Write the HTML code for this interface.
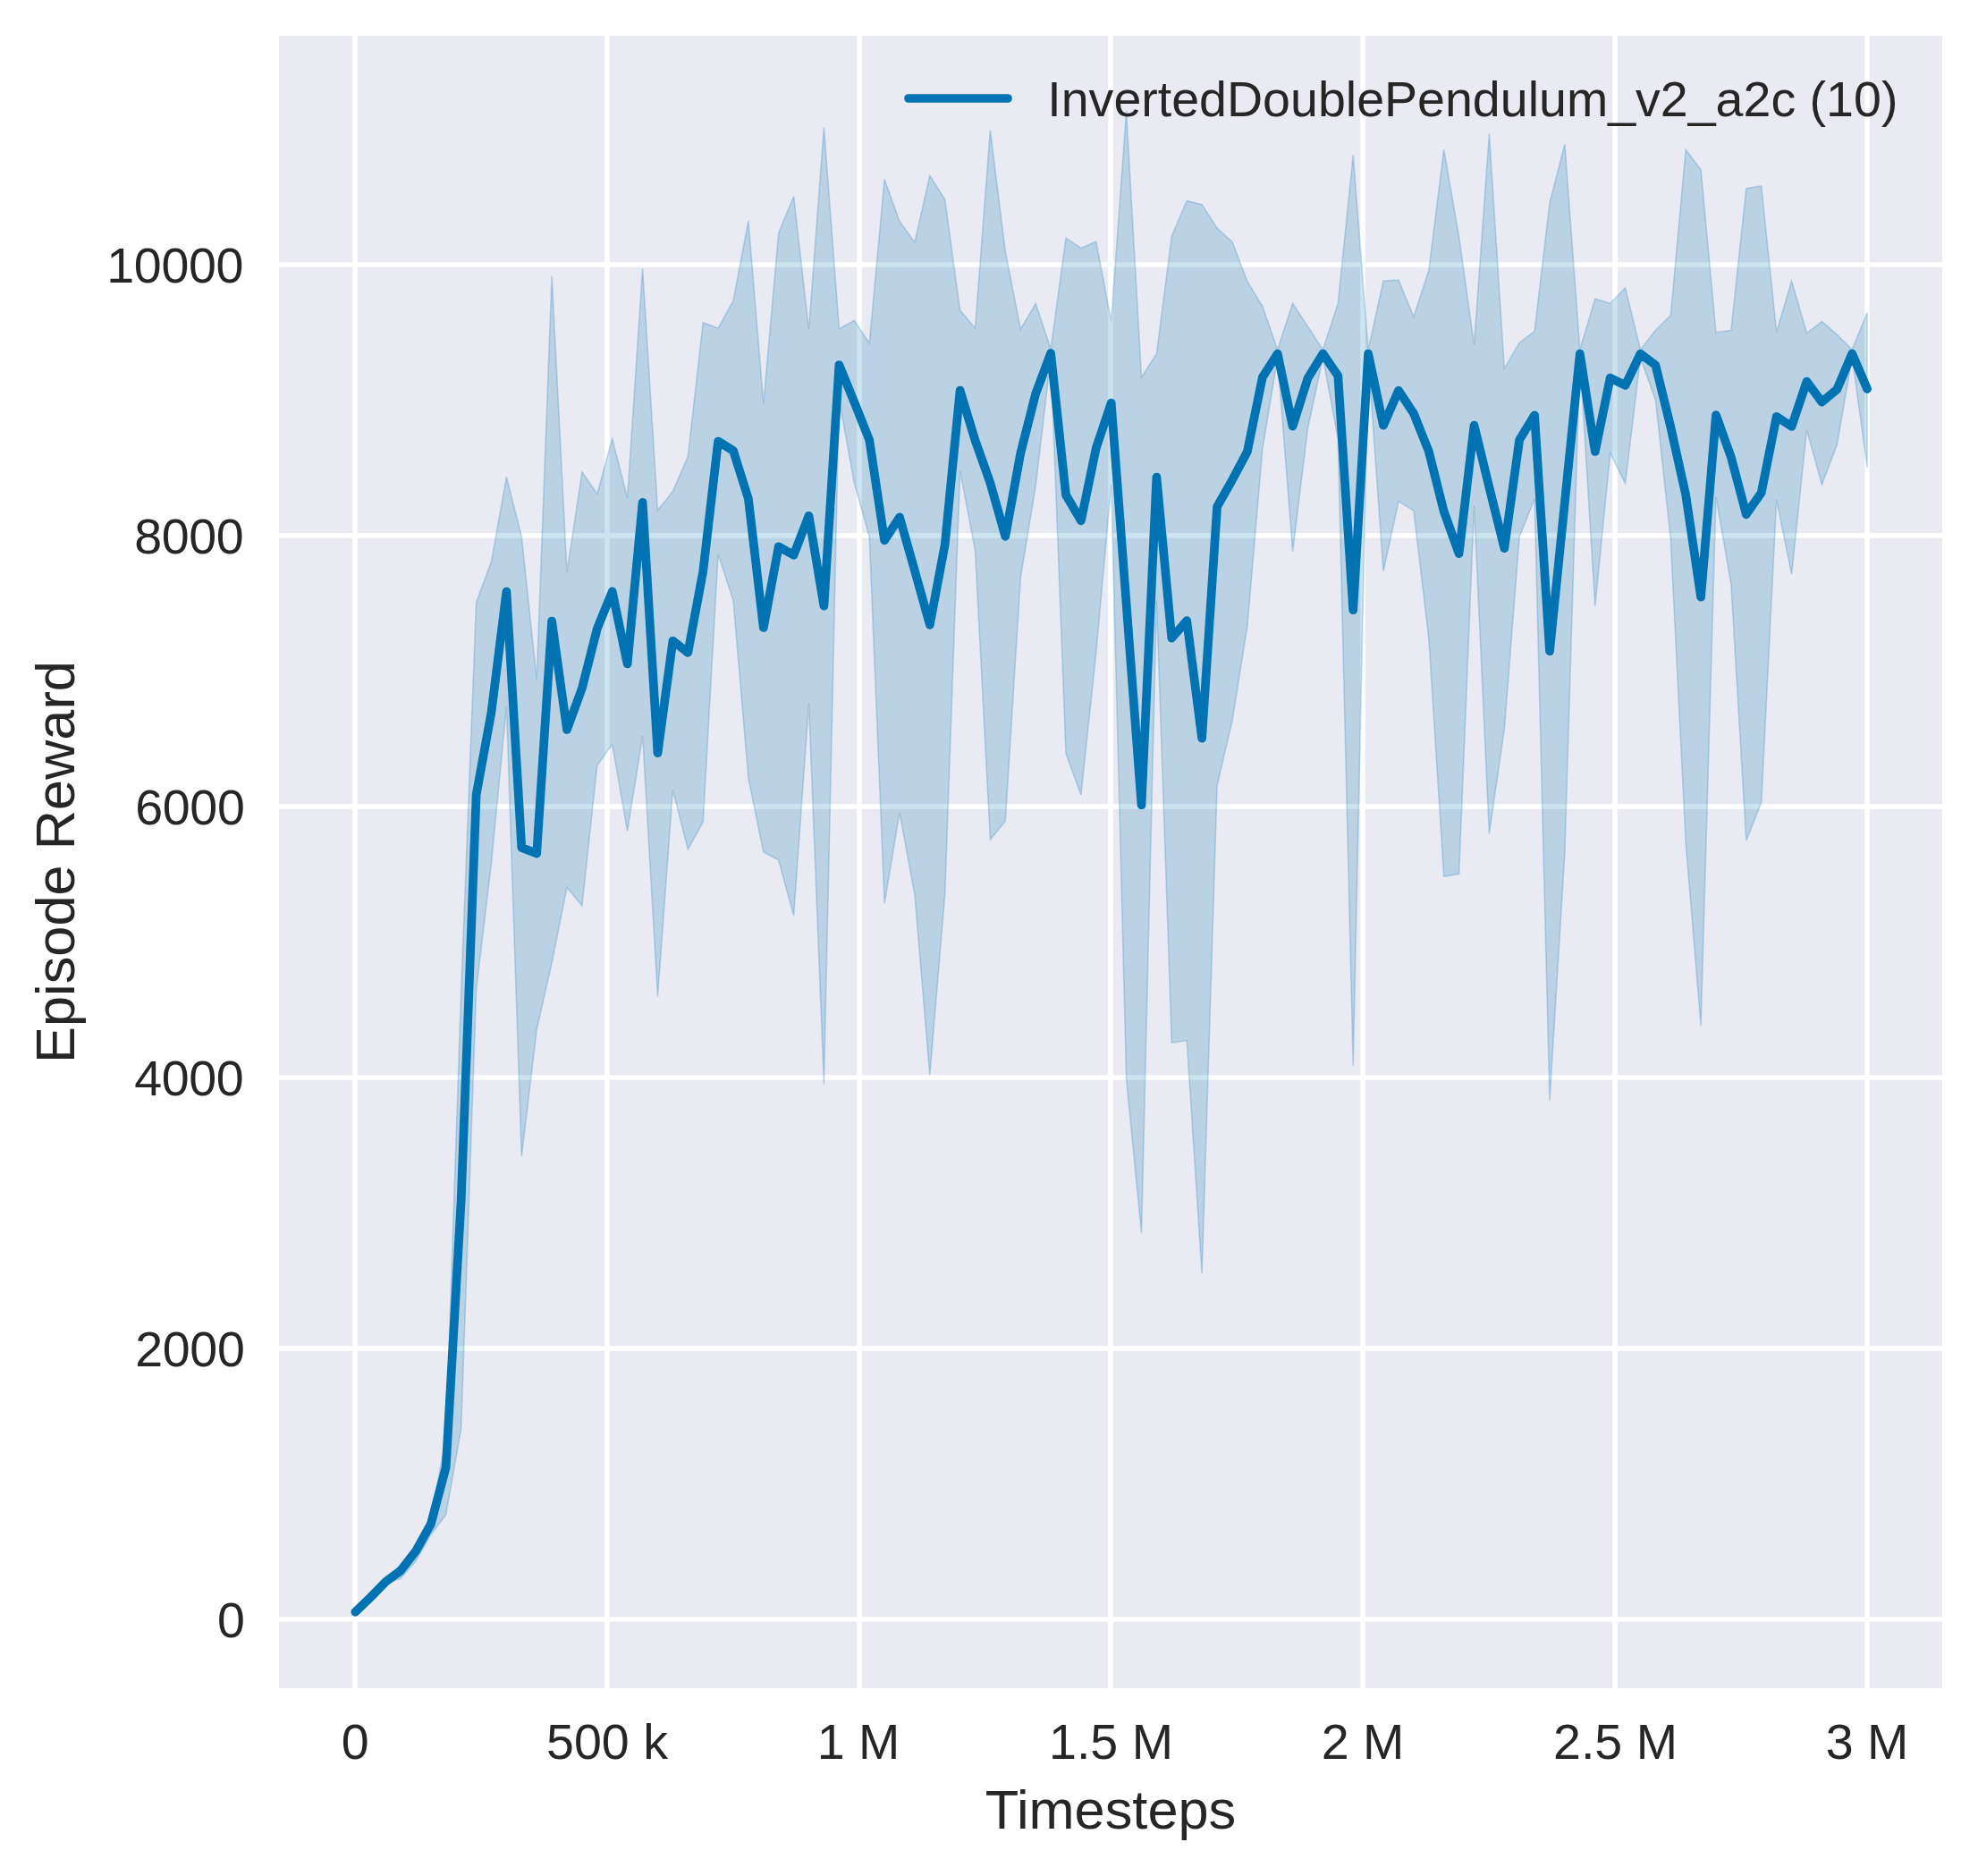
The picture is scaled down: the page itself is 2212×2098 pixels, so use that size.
<!DOCTYPE html>
<html><head><meta charset="utf-8"><title>InvertedDoublePendulum_v2_a2c</title>
<style>html,body{margin:0;padding:0;background:#fff;overflow:hidden}svg{display:block}text{font-family:"Liberation Sans",sans-serif;fill:#262626}</style></head><body>
<svg width="2212" height="2098" viewBox="0 0 2212 2098">
<rect x="0" y="0" width="2212" height="2098" fill="#ffffff"/>
<rect x="312" y="40" width="1860" height="1848" fill="#eaeaf2"/>
<g stroke="#ffffff" stroke-width="5.56" stroke-linecap="butt">
<line x1="397.0" y1="40" x2="397.0" y2="1888"/>
<line x1="679.0" y1="40" x2="679.0" y2="1888"/>
<line x1="961.0" y1="40" x2="961.0" y2="1888"/>
<line x1="1242.0" y1="40" x2="1242.0" y2="1888"/>
<line x1="1524.0" y1="40" x2="1524.0" y2="1888"/>
<line x1="1806.0" y1="40" x2="1806.0" y2="1888"/>
<line x1="2088.0" y1="40" x2="2088.0" y2="1888"/>
<line x1="312" y1="1811.0" x2="2172" y2="1811.0"/>
<line x1="312" y1="1508.0" x2="2172" y2="1508.0"/>
<line x1="312" y1="1205.0" x2="2172" y2="1205.0"/>
<line x1="312" y1="902.0" x2="2172" y2="902.0"/>
<line x1="312" y1="599.0" x2="2172" y2="599.0"/>
<line x1="312" y1="296.0" x2="2172" y2="296.0"/>
</g>
<polygon points="397.3,1802.0 414.2,1785.5 431.1,1768.0 448.0,1754.0 464.9,1731.0 481.8,1699.4 498.7,1607.0 515.7,1108.0 532.6,673.4 549.5,628.0 566.4,533.4 583.3,600.1 600.2,759.2 617.1,308.5 634.0,639.7 650.9,527.8 667.8,552.3 684.7,490.5 701.6,556.8 718.6,300.2 735.5,570.8 752.4,549.4 769.3,510.5 786.2,360.7 803.1,367.0 820.0,336.3 836.9,246.8 853.8,451.5 870.7,260.6 887.6,219.5 904.5,368.5 921.4,142.3 938.4,367.6 955.3,358.3 972.2,383.6 989.1,200.6 1006.0,247.5 1022.9,270.9 1039.8,196.3 1056.7,223.0 1073.6,346.9 1090.5,367.0 1107.4,145.6 1124.3,281.3 1141.3,368.1 1158.2,339.4 1175.1,390.0 1192.0,266.2 1208.9,277.5 1225.8,270.2 1242.7,359.2 1259.6,124.0 1276.5,421.9 1293.4,395.5 1310.3,264.0 1327.2,224.6 1344.1,228.6 1361.1,255.2 1378.0,270.5 1394.9,314.7 1411.8,342.5 1428.7,391.0 1445.6,339.2 1462.5,365.2 1479.4,391.0 1496.3,339.2 1513.2,173.4 1530.1,391.0 1547.0,314.0 1564.0,313.1 1580.9,354.3 1597.8,302.4 1614.7,167.2 1631.6,264.6 1648.5,385.5 1665.4,149.4 1682.3,412.2 1699.2,383.2 1716.1,370.3 1733.0,226.8 1749.9,161.2 1766.8,391.0 1783.8,334.0 1800.7,339.2 1817.6,321.8 1834.5,391.0 1851.4,369.2 1868.3,352.5 1885.2,167.2 1902.1,189.7 1919.0,371.9 1935.9,369.2 1952.8,210.8 1969.7,207.9 1986.7,371.4 2003.6,314.2 2020.5,372.5 2037.4,359.6 2054.3,374.1 2071.2,391.0 2088.1,349.6 2088.1,522.4 2071.2,400.0 2054.3,497.5 2037.4,542.0 2020.5,480.7 2003.6,642.1 1986.7,559.1 1969.7,897.5 1952.8,940.2 1935.9,653.6 1919.0,555.8 1902.1,1147.1 1885.2,942.4 1868.3,603.0 1851.4,447.5 1834.5,400.0 1817.6,540.6 1800.7,506.9 1783.8,678.1 1766.8,400.0 1749.9,953.5 1733.0,1230.8 1716.1,558.0 1699.2,600.2 1682.3,815.6 1665.4,932.4 1648.5,565.8 1631.6,977.4 1614.7,980.2 1597.8,713.7 1580.9,571.3 1564.0,560.6 1547.0,639.2 1530.1,400.0 1513.2,1191.9 1496.3,491.2 1479.4,400.0 1462.5,479.0 1445.6,616.9 1428.7,400.0 1411.8,502.4 1394.9,700.4 1378.0,806.0 1361.1,878.5 1344.1,1424.4 1327.2,1163.8 1310.3,1166.0 1293.4,671.4 1276.5,1379.2 1259.6,1206.8 1242.7,542.4 1225.8,730.0 1208.9,889.0 1192.0,842.8 1175.1,400.0 1158.2,543.5 1141.3,646.0 1124.3,918.4 1107.4,939.1 1090.5,615.8 1073.6,526.4 1056.7,1000.3 1039.8,1202.5 1022.9,1000.3 1006.0,909.1 989.1,1010.3 972.2,600.2 955.3,540.2 938.4,447.0 921.4,1212.6 904.5,786.6 887.6,1024.2 870.7,961.9 853.8,953.0 836.9,870.2 820.0,671.3 803.1,619.7 786.2,919.5 769.3,949.8 752.4,883.5 735.5,1114.2 718.6,823.0 701.6,929.4 684.7,832.4 667.8,856.0 650.9,1013.0 634.0,992.4 617.1,1076.9 600.2,1151.5 583.3,1293.4 566.4,790.2 549.5,964.8 532.6,1107.0 515.7,1597.5 498.7,1693.8 481.8,1716.5 464.9,1746.0 448.0,1765.3 431.1,1771.0 414.2,1787.5 397.3,1803.5" fill="#0173b2" fill-opacity="0.2" stroke="#0173b2" stroke-opacity="0.22" stroke-width="1.6" stroke-linejoin="miter"/>
<polyline points="397.3,1802.8 414.2,1786.5 431.1,1769.2 448.0,1756.5 464.9,1734.8 481.8,1704.4 498.7,1640.7 515.7,1342.0 532.6,888.9 549.5,796.5 566.4,661.6 583.3,947.9 600.2,954.5 617.1,694.5 634.0,816.0 650.9,769.7 667.8,703.0 684.7,661.5 701.6,742.5 718.6,561.9 735.5,842.2 752.4,716.7 769.3,729.8 786.2,639.1 803.1,493.5 820.0,504.0 836.9,557.9 853.8,702.0 870.7,611.3 887.6,620.8 904.5,576.8 921.4,677.6 938.4,408.0 955.3,449.7 972.2,492.0 989.1,604.3 1006.0,578.4 1022.9,638.0 1039.8,698.8 1056.7,609.1 1073.6,436.6 1090.5,492.3 1107.4,540.2 1124.3,599.8 1141.3,506.8 1158.2,440.2 1175.1,395.0 1192.0,553.5 1208.9,582.4 1225.8,501.0 1242.7,450.6 1259.6,675.4 1276.5,900.2 1293.4,533.5 1310.3,713.7 1327.2,694.1 1344.1,825.6 1361.1,566.6 1378.0,536.8 1394.9,505.0 1411.8,421.9 1428.7,395.5 1445.6,476.7 1462.5,423.0 1479.4,395.5 1496.3,420.2 1513.2,682.1 1530.1,395.5 1547.0,475.7 1564.0,436.8 1580.9,462.4 1597.8,504.8 1614.7,572.0 1631.6,619.2 1648.5,475.7 1665.4,545.0 1682.3,613.2 1699.2,491.7 1716.1,464.4 1733.0,728.2 1749.9,561.5 1766.8,395.5 1783.8,505.0 1800.7,422.6 1817.6,430.8 1834.5,395.7 1851.4,408.3 1868.3,477.5 1885.2,553.5 1902.1,667.7 1919.0,464.1 1935.9,511.3 1952.8,575.3 1969.7,551.0 1986.7,465.9 2003.6,477.0 2020.5,426.6 2037.4,449.6 2054.3,435.5 2071.2,395.5 2088.1,435.0" fill="none" stroke="#0173b2" stroke-width="9.72" stroke-linejoin="round" stroke-linecap="round"/>
<line x1="1016" y1="110" x2="1127" y2="110" stroke="#0173b2" stroke-width="9.72" stroke-linecap="round"/>
<text x="1171.3" y="130.3" font-size="55.56">InvertedDoublePendulum_v2_a2c (10)</text>
<text x="397.3" y="1966.5" font-size="55.56" text-anchor="middle">0</text>
<text x="679.0" y="1966.5" font-size="55.56" text-anchor="middle">500 k</text>
<text x="960.0" y="1966.5" font-size="55.56" text-anchor="middle">1 M</text>
<text x="1242.5" y="1966.5" font-size="55.56" text-anchor="middle">1.5 M</text>
<text x="1524.0" y="1966.5" font-size="55.56" text-anchor="middle">2 M</text>
<text x="1806.5" y="1966.5" font-size="55.56" text-anchor="middle">2.5 M</text>
<text x="2088.0" y="1966.5" font-size="55.56" text-anchor="middle">3 M</text>
<text x="273.5" y="1830.5" font-size="55.56" letter-spacing="-0.33" text-anchor="end">0</text>
<text x="273.5" y="1527.5" font-size="55.56" letter-spacing="-0.33" text-anchor="end">2000</text>
<text x="272.4" y="1224.5" font-size="55.56" letter-spacing="-0.33" text-anchor="end">4000</text>
<text x="273.5" y="921.5" font-size="55.56" letter-spacing="-0.33" text-anchor="end">6000</text>
<text x="272.4" y="618.5" font-size="55.56" letter-spacing="-0.33" text-anchor="end">8000</text>
<text x="272.1" y="315.5" font-size="55.56" letter-spacing="-0.33" text-anchor="end">10000</text>
<text x="1242" y="2044.8" font-size="61.3" text-anchor="middle">Timesteps</text>
<text transform="translate(82.8,964) rotate(-90)" font-size="61.3" text-anchor="middle">Episode Reward</text>
</svg></body></html>
